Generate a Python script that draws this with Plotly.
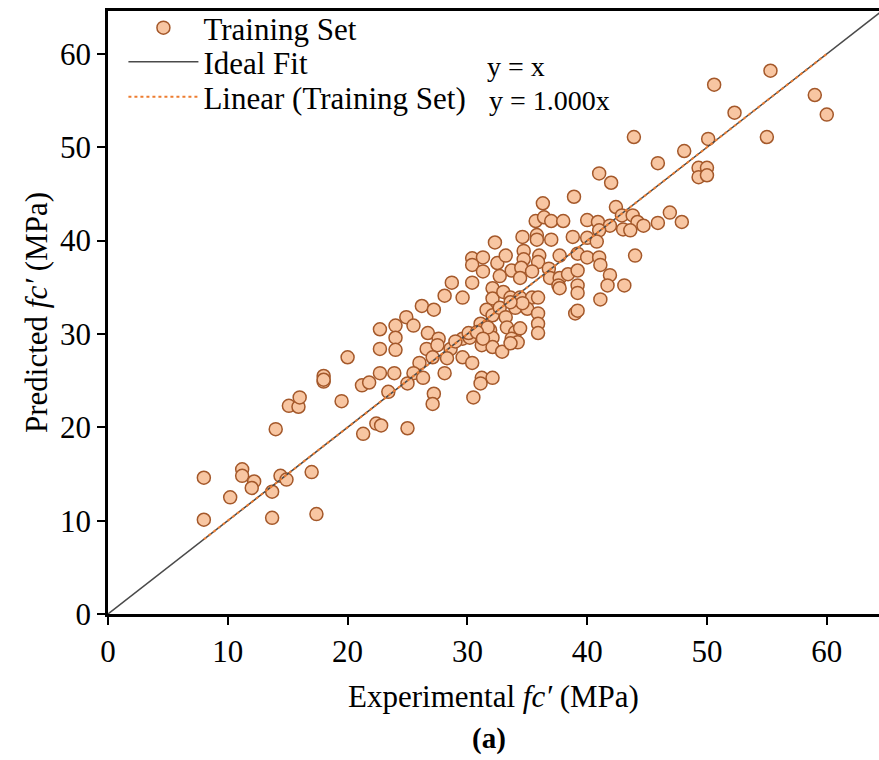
import plotly.graph_objects as go

# Experimental vs. predicted compressive strength (MPa), training set
experimental = [
    18.0, 21.2, 21.8, 15.1, 15.9, 16.0, 19.5, 23.4, 14.0, 21.3,
    22.4, 22.8, 8.0, 11.2, 11.2, 12.2, 12.0, 14.4, 14.9, 13.7,
    17.0, 10.2, 8.0, 13.7, 17.4, 32.3, 30.4, 31.3, 30.4, 31.3,
    32.5, 28.7, 30.4, 28.1, 29.6, 32.1, 32.1, 26.2, 27.2, 24.9,
    25.5, 24.0, 24.0, 22.7, 31.6, 32.1, 26.7, 27.6, 26.6, 27.5,
    29.6, 30.2, 31.3, 31.9, 32.1, 31.2, 32.1, 28.6, 28.3, 27.1,
    26.0, 22.7, 24.0, 20.0, 29.6, 30.4, 18.0, 18.0, 22.7, 23.9,
    25.5, 26.3, 28.1, 31.2, 32.1, 31.1, 25.0, 27.2, 27.1, 30.5,
    25.0, 41.0, 42.0, 38.9, 36.3, 42.4, 42.9, 43.8, 44.2, 44.7,
    43.0, 43.6, 35.7, 36.4, 37.0, 38.0, 40.0, 40.9, 41.9, 41.0,
    34.6, 35.8, 35.8, 37.0, 38.8, 40.0, 40.8, 44.0, 33.2, 34.7,
    34.7, 36.0, 35.9, 37.7, 39.2, 40.0, 41.0, 41.1, 32.7, 33.7,
    34.5, 35.4, 36.8, 36.9, 37.7, 38.4, 39.2, 41.9, 41.7, 43.1,
    37.6, 39.2, 39.2, 33.0, 33.6, 34.4, 35.4, 35.9, 41.1, 32.7,
    33.2, 34.0, 35.0, 35.9, 35.9, 35.9, 39.0, 39.2, 31.1, 31.7,
    33.3, 34.0, 34.4, 33.7, 30.1, 30.8, 31.3, 29.0, 34.2, 32.9,
    33.6, 55.3, 50.6, 59.0, 60.0, 52.3, 43.9, 50.1, 55.0, 48.1,
    45.9, 49.3, 50.0, 49.3, 50.0, 46.9, 45.9, 47.9, 34.4, 37.7,
    34.6, 33.6,
]
predicted = [
    24.9, 24.5, 24.8, 22.3, 22.2, 23.2, 22.8, 23.8, 19.8, 19.3,
    20.4, 20.2, 14.6, 15.5, 14.8, 14.2, 13.5, 14.8, 14.4, 13.1,
    15.2, 12.5, 10.1, 10.3, 10.7, 39.8, 38.1, 38.2, 37.4, 36.7,
    37.6, 35.5, 35.5, 34.1, 33.9, 34.9, 33.8, 33.0, 32.6, 31.8,
    30.9, 30.9, 29.6, 30.5, 32.6, 32.0, 30.1, 29.5, 28.4, 28.8,
    29.5, 29.6, 30.1, 30.4, 29.6, 28.8, 28.6, 28.4, 27.4, 27.5,
    26.9, 28.4, 28.3, 27.5, 27.5, 26.9, 25.5, 25.1, 25.8, 25.8,
    25.8, 25.3, 25.8, 25.3, 25.3, 24.7, 24.7, 23.6, 22.5, 23.2,
    19.9, 47.2, 46.2, 44.7, 44.0, 43.6, 42.7, 42.7, 42.0, 41.6,
    41.2, 41.1, 42.1, 42.5, 42.1, 42.1, 42.2, 42.0, 41.6, 41.1,
    40.4, 40.6, 40.1, 40.1, 40.4, 40.3, 39.9, 38.4, 38.4, 38.9,
    38.0, 38.4, 37.7, 38.4, 38.6, 38.2, 38.2, 37.4, 36.2, 36.8,
    37.1, 36.7, 37.0, 36.0, 36.0, 36.4, 36.8, 36.3, 35.2, 35.2,
    35.2, 35.2, 34.4, 34.5, 33.9, 33.9, 33.9, 33.9, 33.7, 32.8,
    31.8, 32.8, 32.7, 32.2, 31.1, 30.1, 32.2, 32.5, 31.1, 30.7,
    30.7, 30.2, 30.6, 29.5, 30.1, 30.2, 29.5, 29.2, 29.1, 28.1,
    29.0, 58.2, 56.7, 55.6, 53.5, 53.7, 51.1, 50.9, 51.1, 49.6,
    48.3, 47.8, 47.8, 46.8, 47.0, 43.0, 41.9, 42.0, 36.0, 34.9,
    33.3, 33.4,
]

ideal_x = [0, 65]
trend_slope = 1.000  # zero-intercept linear trendline, y = 1.000x

x_ticks = [0, 10, 20, 30, 40, 50, 60]
y_ticks = [0, 10, 20, 30, 40, 50, 60]

FONT = "Liberation Serif"
trend_x = [min(experimental), max(experimental)]

fig = go.Figure()

fig.add_trace(go.Scatter(
    x=experimental, y=predicted, mode="markers", name="Training Set",
    legend="legend",
    marker=dict(size=13, color="#F8C6A2", line=dict(color="#A4582A", width=1.5)),
))
fig.add_trace(go.Scatter(
    x=ideal_x, y=ideal_x, mode="lines", name="Ideal Fit",
    legend="legend2",
    line=dict(color="#4a4a4a", width=1.5),
))
fig.add_trace(go.Scatter(
    x=trend_x, y=[trend_slope * v for v in trend_x], mode="lines",
    name="Linear (Training Set)", legend="legend3",
    line=dict(color="#ED7D31", width=2, dash="dot"),
))

axis_common = dict(
    showgrid=False, zeroline=False, showline=True, linecolor="black",
    linewidth=2.5, ticks="outside", ticklen=8, tickwidth=1.5,
    tickcolor="black", tickfont=dict(family=FONT, size=31, color="black"),
)

PLOT_TOP, PLOT_H = 11, 603


def row_y(px):
    """Paper y for a pixel row inside the plot area."""
    return 1 - (px - PLOT_TOP) / PLOT_H


def legend_at(px):
    return dict(
        x=0.02, y=row_y(px), xanchor="left", yanchor="middle",
        bgcolor="rgba(0,0,0,0)", itemwidth=70,
        font=dict(family=FONT, size=31, color="black"),
    )


fig.update_layout(
    width=879, height=760,
    margin=dict(l=108, r=0, t=11, b=146),
    paper_bgcolor="white", plot_bgcolor="white",
    font=dict(family=FONT, color="black"),
    xaxis=dict(
        range=[0, 64.36], tickvals=x_ticks, mirror=True,
        title=dict(text="Experimental <i>fc′</i> (MPa)",
                   font=dict(family=FONT, size=31), standoff=18),
        **axis_common,
    ),
    yaxis=dict(
        range=[0, 64.6], tickvals=y_ticks,
        title=dict(text="Predicted <i>fc′</i> (MPa)",
                   font=dict(family=FONT, size=31), standoff=4),
        **axis_common,
    ),
    legend=legend_at(28),
    legend2=legend_at(62),
    legend3=legend_at(97),
    showlegend=True,
    annotations=[
        dict(text="y = x", xref="paper", yref="paper",
             x=(485 - 108) / 771, y=row_y(66),
             xanchor="left", yanchor="middle", showarrow=False,
             font=dict(family=FONT, size=28, color="black")),
        dict(text="y = 1.000x", xref="paper", yref="paper",
             x=(487 - 108) / 771, y=row_y(100),
             xanchor="left", yanchor="middle", showarrow=False,
             font=dict(family=FONT, size=28, color="black")),
        dict(text="<b>(a)</b>", xref="paper", yref="paper",
             x=(489 - 108) / 771, y=-(738 - 614) / PLOT_H,
             xanchor="center", yanchor="middle", showarrow=False,
             font=dict(family=FONT, size=29, color="black")),
    ],
)

fig.write_html("out.html")
